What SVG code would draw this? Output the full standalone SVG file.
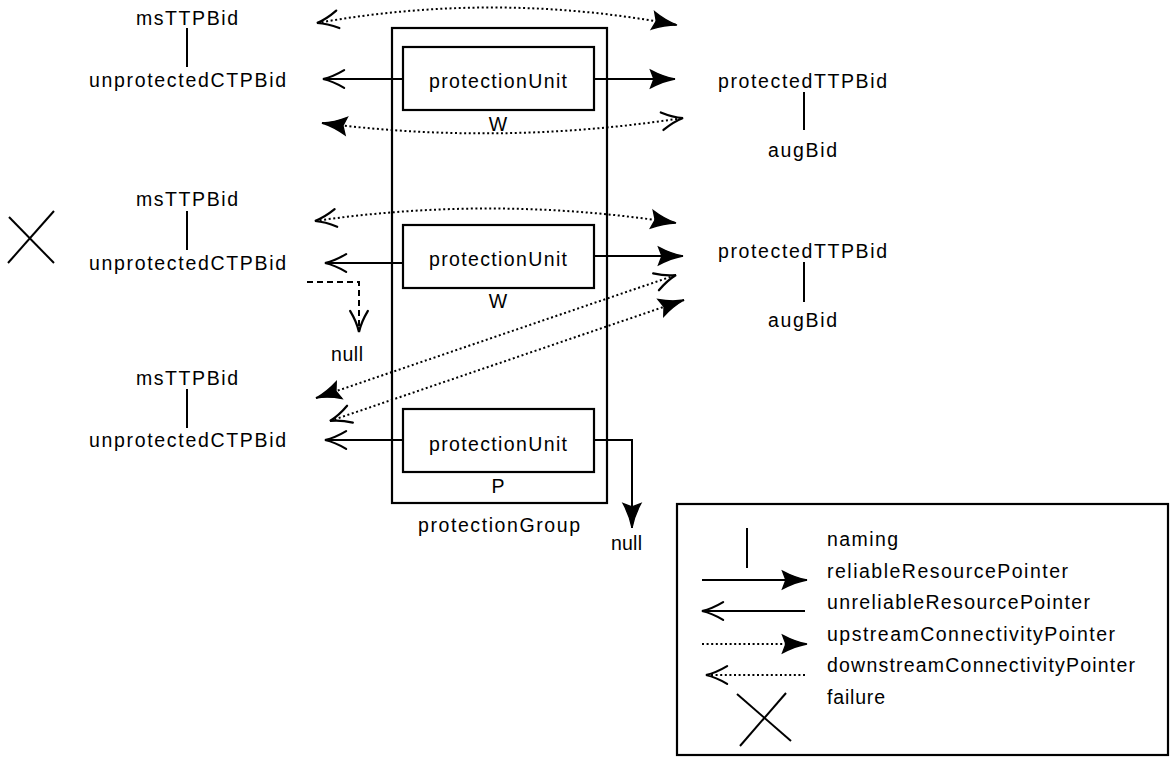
<svg xmlns="http://www.w3.org/2000/svg" width="1172" height="760" viewBox="0 0 1172 760">
<style>
text{font-family:"Liberation Sans",Arial,sans-serif;font-size:19.5px;fill:#000}
.box{fill:none;stroke:#000;stroke-width:2.2}
.ln{fill:none;stroke:#000;stroke-width:2}
.dot{fill:none;stroke:#000;stroke-width:2;stroke-dasharray:2 2.6}
.dash{fill:none;stroke:#000;stroke-width:2;stroke-dasharray:6 4}
.fh{fill:#000;stroke:#000;stroke-width:1.2}
.oh{fill:none;stroke:#000;stroke-width:2;stroke-linecap:round}
</style>
<defs>
<marker id="filled" markerUnits="userSpaceOnUse" orient="auto-start-reverse" refX="0" refY="0" markerWidth="30" markerHeight="30" viewBox="-25 -12 27 24" overflow="visible">
<path class="fh" d="M0,0 Q-11,-2 -22,-8 L-19,0 L-22,8 Q-11,2 0,0 Z"/>
</marker>
<marker id="open" markerUnits="userSpaceOnUse" orient="auto-start-reverse" refX="0" refY="0" markerWidth="30" markerHeight="30" viewBox="-25 -12 27 24" overflow="visible">
<path class="oh" d="M-19,-8 Q-9,-2 0,0 Q-9,2 -19,8"/>
</marker>
</defs>
<rect width="1172" height="760" fill="#fff"/>

<g id="protectionGroup">
<rect class="box" x="392" y="28" width="215" height="475"/>
<text x="418" y="532" textLength="162" lengthAdjust="spacing">protectionGroup</text>
</g>
<g id="puW1">
<rect class="box" x="403" y="47" width="191" height="63" fill="#fff"/>
<text x="429" y="88" textLength="138" lengthAdjust="spacing">protectionUnit</text>
<text x="498" y="131" text-anchor="middle">W</text>
</g>
<g id="puW2">
<rect class="box" x="403" y="225" width="191" height="63" fill="#fff"/>
<text x="429" y="266" textLength="138" lengthAdjust="spacing">protectionUnit</text>
<text x="498" y="308" text-anchor="middle">W</text>
</g>
<g id="puP">
<rect class="box" x="403" y="409" width="191" height="63" fill="#fff"/>
<text x="429" y="451" textLength="138" lengthAdjust="spacing">protectionUnit</text>
<text x="498" y="493" text-anchor="middle">P</text>
</g>

<g id="left1">
<text x="136" y="25" textLength="102" lengthAdjust="spacing">msTTPBid</text>
<line class="ln" x1="187" y1="28" x2="187" y2="67"/>
<text x="89" y="87" textLength="197" lengthAdjust="spacing">unprotectedCTPBid</text>
</g>
<g id="left2">
<text x="136" y="206" textLength="102" lengthAdjust="spacing">msTTPBid</text>
<line class="ln" x1="187" y1="211" x2="187" y2="250"/>
<text x="89" y="270" textLength="197" lengthAdjust="spacing">unprotectedCTPBid</text>
</g>
<g id="failure">
<line class="ln" x1="9" y1="217" x2="54" y2="263"/>
<line class="ln" x1="54" y1="211" x2="8" y2="263"/>
</g>
<g id="left3">
<text x="136" y="385" textLength="102" lengthAdjust="spacing">msTTPBid</text>
<line class="ln" x1="187" y1="389" x2="187" y2="428"/>
<text x="89" y="447" textLength="197" lengthAdjust="spacing">unprotectedCTPBid</text>
</g>
<g id="right1">
<text x="718" y="88" textLength="169" lengthAdjust="spacing">protectedTTPBid</text>
<line class="ln" x1="804" y1="92" x2="804" y2="130"/>
<text x="768" y="157" textLength="69" lengthAdjust="spacing">augBid</text>
</g>
<g id="right2">
<text x="718" y="258" textLength="169" lengthAdjust="spacing">protectedTTPBid</text>
<line class="ln" x1="804" y1="262" x2="804" y2="302"/>
<text x="768" y="327" textLength="69" lengthAdjust="spacing">augBid</text>
</g>
<g id="null1">
<text x="331" y="361" textLength="32" lengthAdjust="spacing">null</text>
</g>
<g id="null2">
<text x="611" y="550" textLength="31" lengthAdjust="spacing">null</text>
</g>

<g id="connectors">
<path class="dot" d="M317,23 Q497,-9 677,25" marker-start="url(#open)" marker-end="url(#filled)"/>
<path class="dot" d="M322,123 Q500,146 683,118" marker-start="url(#filled)" marker-end="url(#open)"/>
<path class="dot" d="M315,221 Q495,195 676,223" marker-start="url(#open)" marker-end="url(#filled)"/>
<path class="dot" d="M316,398 L676,275" marker-start="url(#filled)" marker-end="url(#open)"/>
<path class="dot" d="M330,421 L684,300" marker-start="url(#open)" marker-end="url(#filled)"/>
<path class="ln" d="M403,79 L323,79" marker-end="url(#open)"/>
<path class="ln" d="M594,79 L675,79" marker-end="url(#filled)"/>
<path class="ln" d="M403,263 L325,263" marker-end="url(#open)"/>
<path class="ln" d="M594,256 L683,256" marker-end="url(#filled)"/>
<path class="ln" d="M403,440 L325,440" marker-end="url(#open)"/>
<path class="ln" d="M594,440 L632,440 L632,528" marker-end="url(#filled)"/>
<path class="dash" d="M307,282 L359,282 L359,332" marker-end="url(#open)"/>
</g>

<g id="legend">
<rect class="box" x="677" y="504" width="491" height="251" stroke-width="2.5"/>
<line class="ln" x1="747" y1="528" x2="747" y2="568"/>
<text x="827" y="546" textLength="71" lengthAdjust="spacing">naming</text>
<path class="ln" d="M702,580 L807,580" marker-end="url(#filled)"/>
<text x="827" y="578" textLength="241" lengthAdjust="spacing">reliableResourcePointer</text>
<path class="ln" d="M805,611 L702,611" marker-end="url(#open)"/>
<text x="827" y="609" textLength="263" lengthAdjust="spacing">unreliableResourcePointer</text>
<path class="dot" d="M702,644 L807,644" marker-end="url(#filled)"/>
<text x="827" y="641" textLength="288" lengthAdjust="spacing">upstreamConnectivityPointer</text>
<path class="dot" d="M805,675 L706,675" marker-end="url(#open)"/>
<text x="827" y="672" textLength="308" lengthAdjust="spacing">downstreamConnectivityPointer</text>
<line class="ln" x1="737" y1="694" x2="791" y2="741"/>
<line class="ln" x1="786" y1="693" x2="740" y2="746"/>
<text x="827" y="704" textLength="58" lengthAdjust="spacing">failure</text>
</g>
</svg>
